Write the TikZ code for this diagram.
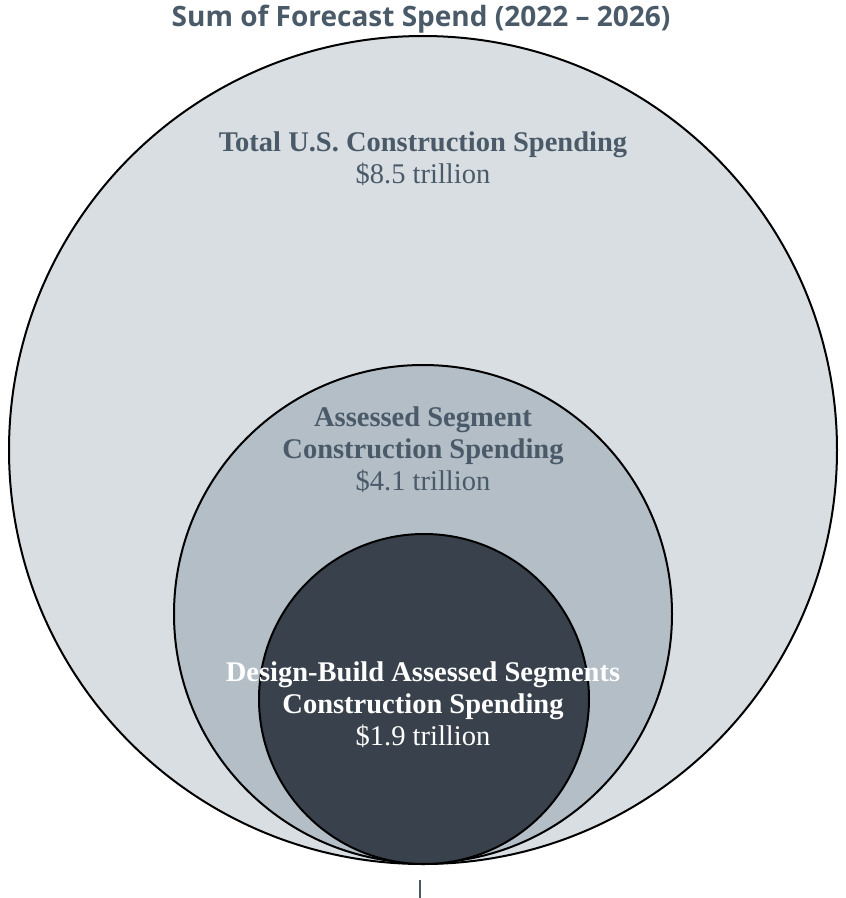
\documentclass[tikz,border=0pt]{standalone}
\usepackage{fontspec}
\usepackage{xcolor}
\setmainfont{Liberation Serif}
\newfontfamily\titlefont{Open Sans}
\definecolor{slate}{HTML}{4B5A69}
\definecolor{outerfill}{HTML}{D9DEE2}
\definecolor{midfill}{HTML}{B3BEC7}
\definecolor{innerfill}{HTML}{39424C}
\tikzset{
  ring/.style={draw=black, line width=2pt},
  label/.style={align=center, font=\fontsize{28.5}{32}\selectfont, text=slate},
}

\begin{document}
\begin{tikzpicture}[x=1pt, y=-1pt]

% the page
\useasboundingbox [fill=white] (0,0) rectangle (846,898);

% the title
\node [font=\titlefont\bfseries\fontsize{28}{32}\selectfont, text=slate] (title) at (421,19) {Sum of Forecast Spend (2022 – 2026)};

% the circles
\draw [ring, fill=outerfill] (423,450) circle [radius=414];
\draw [ring, fill=midfill] (423,614) circle [radius=249];
\draw [ring, fill=innerfill] (424,699) circle [radius=165];

% the labels
\node [label] (total) at (423,159) {\textbf{Total U.S. Construction Spending}\\\$8.5 trillion};
\node [label] (assessed) at (423,450) {\textbf{Assessed Segment}\\\textbf{Construction Spending}\\\$4.1 trillion};
\node [label, text=white] (designbuild) at (423,705) {\textbf{Design-Build Assessed Segments}\\\textbf{Construction Spending}\\\$1.9 trillion};

% the tick
\draw [slate, line width=1.2pt] (420,880) -- (420,898);

\end{tikzpicture}
\end{document}
